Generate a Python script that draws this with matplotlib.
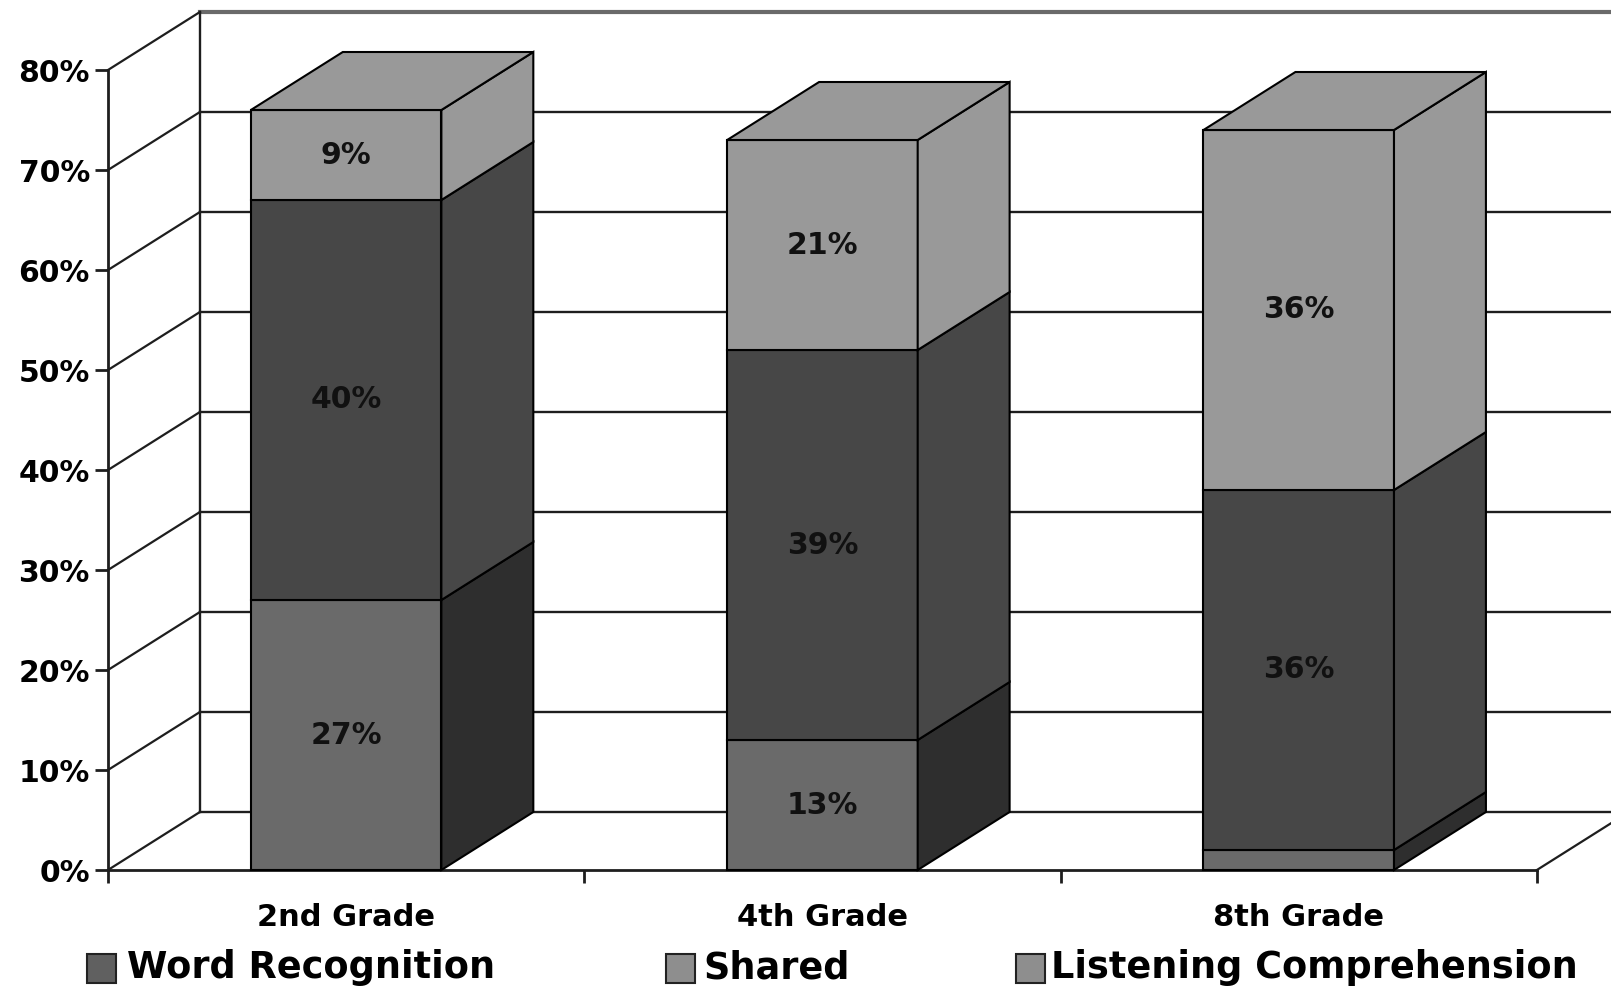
import matplotlib.pyplot as plt
from matplotlib.patches import Polygon, Rectangle
import numpy as np

plt.rcParams["font.family"] = "DejaVu Sans"
plt.rcParams["font.weight"] = "bold"

# data (percent of students), bottom -> top of each stack
grades = ["2nd Grade", "4th Grade", "8th Grade"]
series_names = ["Word Recognition", "Shared", "Listening Comprehension"]
word_recognition = [27, 13, 2]
shared = [40, 39, 36]
listening = [9, 21, 36]
y_ticks = [0, 10, 20, 30, 40, 50, 60, 70, 80]

# grey shades (front face, side face) per series, and legend boxes
front_colors = ["#6a6a6a", "#474747", "#999999"]
side_colors = ["#2e2e2e", "#474747", "#999999"]
legend_colors = ["#606060", "#8e8e8e", "#8e8e8e"]

DX, DY = 0.193, 5.8  # 3d depth offset in data units
BAR_W = 0.4
LINE_C = "#1e1e1e"

fig = plt.figure(figsize=(16.11, 9.92), dpi=100)
ax = fig.add_axes([0, 0, 1, 1])
ax.set_xlim(-0.2267, 3.1556)
ax.set_ylim(-12.2, 87.0)

# back wall, gridlines and floor
for v in y_ticks:
    if v == y_ticks[-1]:
        ax.plot([DX, 4], [v + DY] * 2, color="#6a6a6a", lw=3, zorder=1)
    else:
        ax.plot([DX, 4], [v + DY] * 2, color=LINE_C, lw=1.7, zorder=1)
    ax.plot([0, DX], [v, v + DY], color=LINE_C, lw=1.6, zorder=1)
ax.plot([DX, DX], [DY, y_ticks[-1] + DY], color=LINE_C, lw=1.7, zorder=1)
ax.plot([len(grades), len(grades) + DX], [0, DY], color=LINE_C, lw=1.6, zorder=1)

# stacked 3d bars
stacks = [word_recognition, shared, listening]
for i, grade in enumerate(grades):
    center = i + 0.5
    x0, x1 = center - BAR_W / 2, center + BAR_W / 2
    bottom = 0
    for s, vals in enumerate(stacks):
        top = bottom + vals[i]
        ax.add_patch(Rectangle((x0, bottom), BAR_W, vals[i], fc=front_colors[s],
                               ec="k", lw=1.5, zorder=3))
        ax.add_patch(Polygon([(x1, bottom), (x1 + DX, bottom + DY), (x1 + DX, top + DY), (x1, top)],
                             closed=True, fc=side_colors[s], ec="k", lw=1.5, zorder=3))
        if s == len(stacks) - 1:
            ax.add_patch(Polygon([(x0, top), (x1, top), (x1 + DX, top + DY), (x0 + DX, top + DY)],
                                 closed=True, fc=front_colors[s], ec="k", lw=1.5, zorder=3))
        if vals[i] >= 5:
            ax.text(center, bottom + vals[i] / 2, f"{vals[i]}%", ha="center", va="center",
                    fontsize=21.5, fontweight="bold", color="#111111", zorder=4)
        bottom = top

# front axes
for side in ["top", "right"]:
    ax.spines[side].set_visible(False)
ax.spines["left"].set_position(("data", 0))
ax.spines["left"].set_bounds(0, y_ticks[-1])
ax.spines["bottom"].set_position(("data", 0))
ax.spines["bottom"].set_bounds(0, len(grades))
for side in ["left", "bottom"]:
    ax.spines[side].set_linewidth(2)
    ax.spines[side].set_color(LINE_C)

ax.set_yticks(y_ticks)
ax.set_yticklabels([f"{v}%" for v in y_ticks])
ax.tick_params(axis="y", length=9.4, width=2, pad=3.6, labelsize=21.5, color=LINE_C)
ax.set_xticks(np.arange(len(grades) + 1))
ax.set_xticklabels([])
ax.tick_params(axis="x", which="major", length=9.4, width=2, color=LINE_C)
ax.set_xticks(np.arange(len(grades)) + 0.5, minor=True)
ax.set_xticklabels(grades, minor=True)
ax.tick_params(axis="x", which="minor", length=0, pad=24, labelsize=22)

# legend row
W, H = 1611.0, 992.0
box_x = [87, 666, 1016]
text_x = [127, 703, 1051]
y_mid = 968
for name, bx, tx, c in zip(series_names, box_x, text_x, legend_colors):
    fig.patches.append(Rectangle((bx / W, (H - y_mid - 14.5) / H), 29 / W, 29 / H,
                                 transform=fig.transFigure, fc=c, ec="#222222", lw=1.5))
    fig.text(tx / W, (H - y_mid) / H, name, ha="left", va="center",
             fontsize=26.4, fontweight="bold")

plt.savefig("out.png", dpi=100)
